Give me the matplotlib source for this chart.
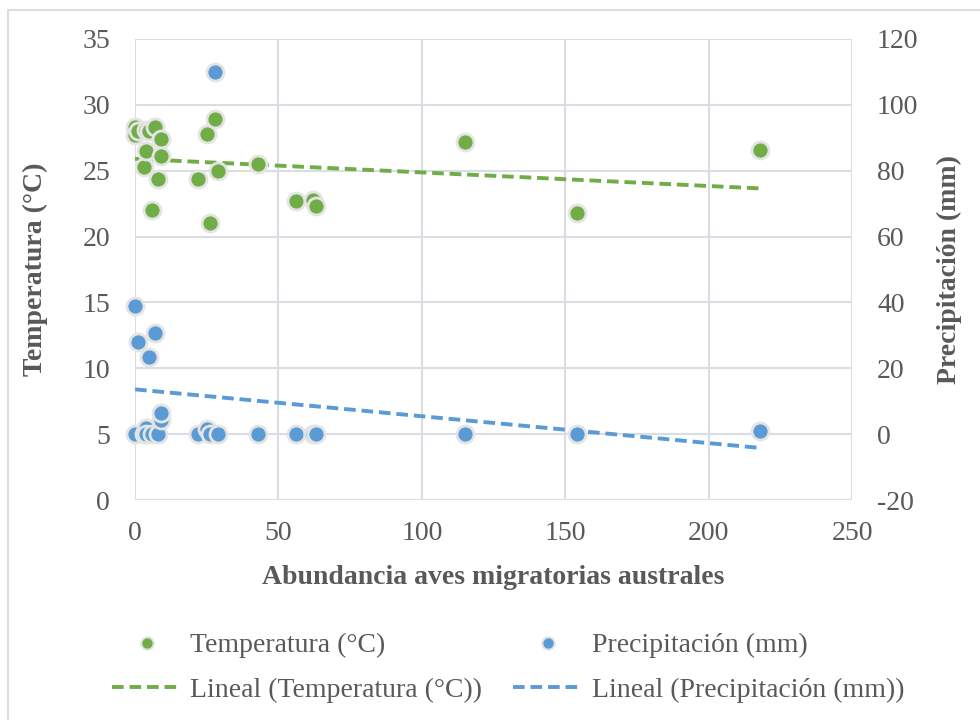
import matplotlib.pyplot as plt
import numpy as np
from matplotlib.lines import Line2D
from matplotlib.patches import Rectangle

# Abundance of austral migratory birds and climate at each count
abundancia = [0, 0, 1, 3, 4, 4, 5, 6, 7, 8, 9, 9, 22, 25, 26, 28, 29, 43, 56, 62, 63, 115, 154, 218]
temperatura = [28.3, 27.7, 28.0, 25.3, 26.5, 28.1, 28.0, 22.0, 28.3, 24.4, 27.4, 26.1,
               24.4, 27.8, 21.0, 28.9, 25.0, 25.5, 22.7, 22.8, 22.3, 27.2, 21.8, 26.6]
precipitacion = [0, 39, 28, 0, 1.8, 0, 23.5, 0, 30.7, 0, 4.4, 6.4,
                 0, 1.6, 0, 110, 0, 0, 0, 0, 0, 0, 0, 1]

# Excel linear trendlines as shown on the chart (slope, intercept)
lineal_temp = [-0.0103, 25.9]
lineal_prec = [-0.0816, 13.6]

green = '#70AD47'
blue = '#5B9BD5'
grid_color = '#D9DDE4'
text_color = '#595959'

plt.rcParams['font.family'] = ['Liberation Serif', 'DejaVu Serif']
plt.rcParams['axes.unicode_minus'] = False

fig = plt.figure(figsize=(9.8, 7.2), dpi=100)
W, H = 980, 720
ax = fig.add_axes([135 / W, 1 - 500 / H, (852 - 135) / W, (500 - 39) / H])
ax2 = ax.twinx()

# outer chart frame
fig.patches.append(Rectangle((8 / W, -0.05), 1.2, 1 - 10 / H + 0.05, transform=fig.transFigure,
                             fill=False, edgecolor=grid_color, linewidth=1.5))

x = np.array(abundancia)
ax.scatter(x, temperatura, s=150, color=green, edgecolor='#E4E4E4', linewidth=2,
           zorder=3, clip_on=False)
ax2.scatter(x, precipitacion, s=150, color=blue, edgecolor='#E4E4E4', linewidth=2,
            zorder=3, clip_on=False)

# linear trendlines over the data range
xs = np.array([x.min(), x.max()])
dash = (0, (3, 1.5))
ax.plot(xs, np.polyval(lineal_temp, xs), color=green, linestyle=dash, linewidth=2.8, zorder=2)
ax2.plot(xs, np.polyval(lineal_prec, xs), color=blue, linestyle=dash, linewidth=2.8, zorder=2)

ax.set_xlim(0, 250)
ax.set_ylim(0, 35)
ax2.set_ylim(-20, 120)
ax.set_xticks(np.arange(0, 251, 50))
ax.set_yticks(np.arange(0, 36, 5))
ax2.set_yticks(np.arange(-20, 121, 20))

ax.grid(True, color=grid_color, linewidth=1.5, zorder=0)
ax.set_axisbelow(True)
for a in (ax, ax2):
    for s in a.spines.values():
        s.set_visible(False)
    a.tick_params(length=0, labelsize=20, colors=text_color)
ax.tick_params(axis='y', pad=18)
ax.tick_params(axis='x', pad=15)
ax2.tick_params(axis='y', pad=18)

ax.set_xlabel('Abundancia aves migratorias australes', fontsize=20, fontweight='bold',
              color=text_color, labelpad=14)
ax.set_ylabel('Temperatura (°C)', fontsize=20, fontweight='bold', color=text_color, labelpad=25)
ax2.set_ylabel('Precipitación (mm)', fontsize=20, fontweight='bold', color=text_color, labelpad=13)

handles = [
    Line2D([], [], marker='o', linestyle='none', markersize=9, markerfacecolor=green,
           markeredgecolor='#E4E4E4', markeredgewidth=1.5),
    Line2D([], [], color=green, linestyle=dash, linewidth=2.8),
    Line2D([], [], marker='o', linestyle='none', markersize=9, markerfacecolor=blue,
           markeredgecolor='#E4E4E4', markeredgewidth=1.5),
    Line2D([], [], color=blue, linestyle=dash, linewidth=2.8),
]
labels = ['Temperatura (°C)', 'Lineal (Temperatura (°C))',
          'Precipitación (mm)', 'Lineal (Precipitación (mm))']
leg = fig.legend(handles, labels, loc='center', bbox_to_anchor=(508 / W, 1 - 668 / H), ncol=2,
                 frameon=False, fontsize=20, labelcolor=text_color, columnspacing=1.1,
                 handlelength=2.5, handletextpad=0.33, labelspacing=0.7)

fig.savefig('out.png', dpi=100)
